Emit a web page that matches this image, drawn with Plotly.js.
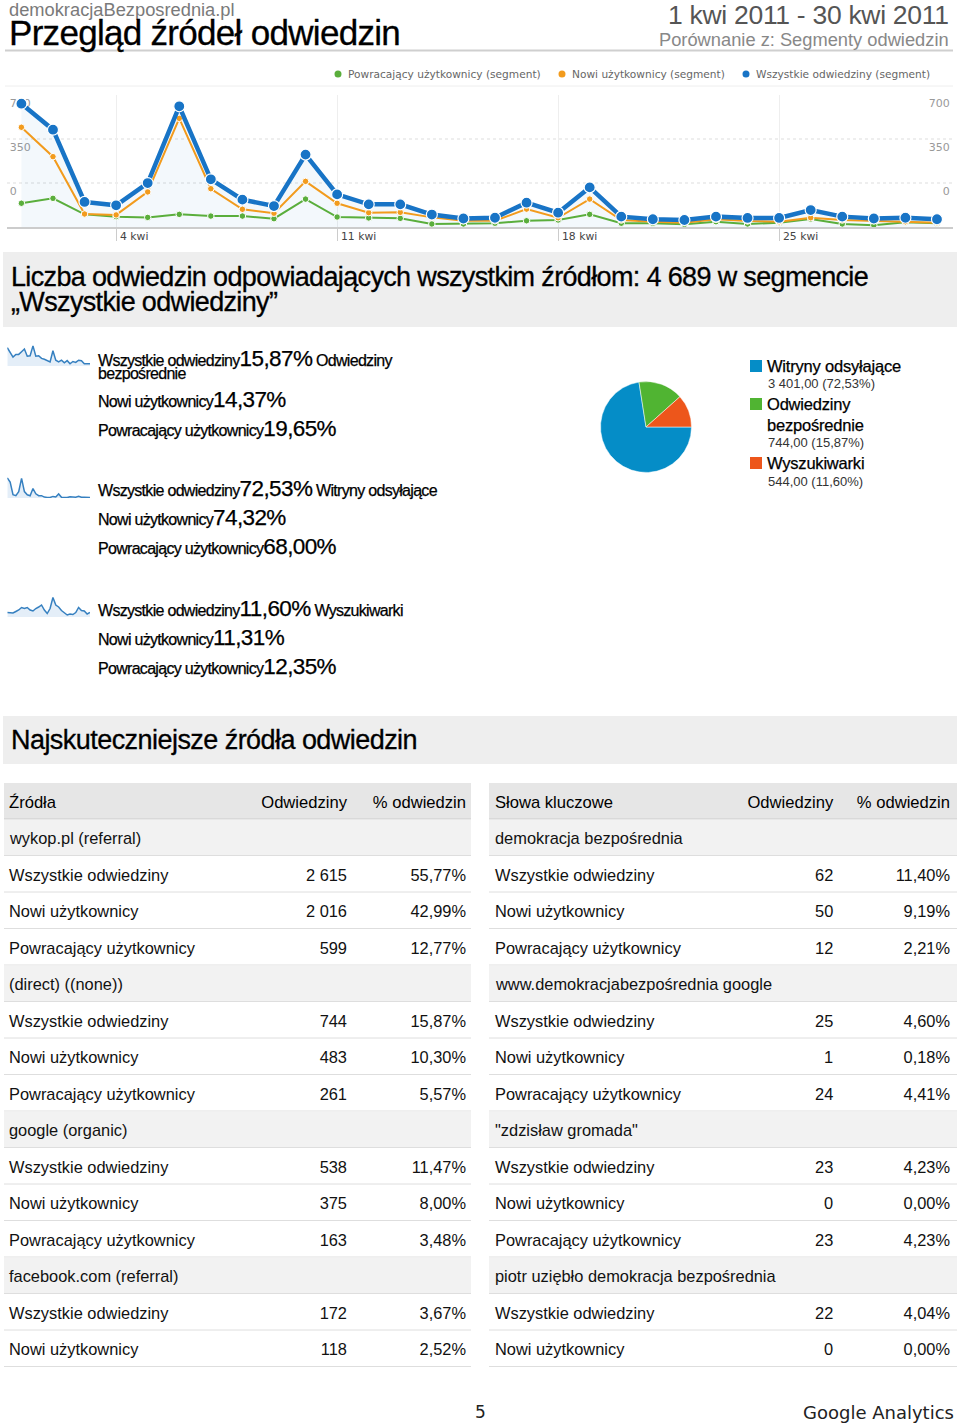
<!DOCTYPE html>
<html><head><meta charset="utf-8">
<script src="https://cdn.plot.ly/plotly-3.0.1.min.js"></script>
<style>html,body{margin:0;padding:0;background:#fff}#chart{width:960px;height:1425px}</style>
</head><body><div id="chart"></div>
<script>
// ---------- DATA ----------
const days = [1,2,3,4,5,6,7,8,9,10,11,12,13,14,15,16,17,18,19,20,21,22,23,24,25,26,27,28,29,30];
const allVisits = [654,516,133,115,233,640,253,145,111,384,173,120,120,66,45,49,129,76,210,55,41,37,55,48,48,90,55,45,49,41];
const newUsers = [529,373,69,64,186,576,203,94,73,242,126,76,78,51,33,33,95,49,148,37,28,23,41,32,28,49,37,33,28,23];
const returningUsers = [126,152,67,55,51,67,58,58,44,148,53,48,46,16,16,20,33,37,67,20,20,14,28,16,23,42,16,9,25,20];
const seriesNames = ['Powracający użytkownicy (segment)','Nowi użytkownicy (segment)','Wszystkie odwiedziny (segment)'];
const xTickVals = [4,11,18,25];
const xTickText = ['4 kwi','11 kwi','18 kwi','25 kwi'];
const yTickVals = [700,466.67,233.33];
const yTickText = ['700','350','0'];

const sparkDirect = [46,35,25,31,31,37,43,27,28,50,27,28,22,20,17,14,39,18,14,18,12,17,10,15,13,18,17,10,10,10];
const sparkReferral = [595,468,96,69,184,580,189,95,65,280,125,68,70,28,17,14,47,30,120,20,16,12,35,24,22,49,21,19,29,18];
const sparkSearch = [13,13,12,15,18,23,21,23,18,16,21,24,28,18,11,21,43,28,24,17,13,8,10,9,13,23,17,16,10,13];
const segmentLabels = ['Wszystkie odwiedziny','Nowi użytkownicy','Powracający użytkownicy'];
const sourceNames = ['Odwiedziny bezpośrednie','Witryny odsyłające','Wyszukiwarki'];
const pctDirect = ['15,87%','14,37%','19,65%'];
const pctReferral = ['72,53%','74,32%','68,00%'];
const pctSearch = ['11,60%','11,31%','12,35%'];

const pieLabels = ['Witryny odsyłające','Odwiedziny bezpośrednie','Wyszukiwarki'];
const pieValues = [3401,744,544];
const pieValueText = ['3 401,00 (72,53%)','744,00 (15,87%)','544,00 (11,60%)'];
const pieColors = ['#058dc7','#50b432','#ed561b'];

const srcHeader = ['Źródła','Odwiedziny','% odwiedzin'];
const srcNames = ['wykop.pl (referral)','Wszystkie odwiedziny','Nowi użytkownicy','Powracający użytkownicy','(direct) ((none))','Wszystkie odwiedziny','Nowi użytkownicy','Powracający użytkownicy','google (organic)','Wszystkie odwiedziny','Nowi użytkownicy','Powracający użytkownicy','facebook.com (referral)','Wszystkie odwiedziny','Nowi użytkownicy'];
const srcVisits = ['','2 615','2 016','599','','744','483','261','','538','375','163','','172','118'];
const srcPct = ['','55,77%','42,99%','12,77%','','15,87%','10,30%','5,57%','','11,47%','8,00%','3,48%','','3,67%','2,52%'];

const kwHeader = ['Słowa kluczowe','Odwiedziny','% odwiedzin'];
const kwNames = ['demokracja bezpośrednia','Wszystkie odwiedziny','Nowi użytkownicy','Powracający użytkownicy','www.demokracjabezpośrednia google','Wszystkie odwiedziny','Nowi użytkownicy','Powracający użytkownicy','"zdzisław gromada"','Wszystkie odwiedziny','Nowi użytkownicy','Powracający użytkownicy','piotr uziębło demokracja bezpośrednia','Wszystkie odwiedziny','Nowi użytkownicy'];
const kwVisits = ['','62','50','12','','25','1','24','','23','0','23','','22','0'];
const kwPct = ['','11,40%','9,19%','2,21%','','4,60%','0,18%','4,41%','','4,23%','0,00%','4,23%','','4,04%','0,00%'];

// ---------- LAYOUT HELPERS ----------
const X = p => p/960, Y = p => 1 - p/1425;
const SANS = 'Liberation Sans, Arial, sans-serif';
const DJ = 'DejaVu Sans, sans-serif';
const annotations = [], shapes = [];
function txt(text, x, y, font, o) {
  annotations.push(Object.assign({text:text, x:X(x), y:Y(y), xref:'paper', yref:'paper', showarrow:false,
    xanchor:'left', yanchor:'middle', align:'left', borderpad:0, font:font}, o||{}));
}
function sp(t, size, ls, color, heavy) {
  let s = '';
  if (size) s += 'font-size:' + size + 'px;';
  if (ls) s += 'letter-spacing:' + ls + 'px;';
  if (color) s += 'color:' + color + ';';
  if (heavy) s += 'stroke:#000;stroke-width:' + heavy + 'px;';
  return '<span style="' + s + '">' + t + '</span>';
}
function rect(x0,y0,x1,y1,fill){ shapes.push({type:'rect',xref:'paper',yref:'paper',x0:X(x0),x1:X(x1),y0:Y(y0),y1:Y(y1),fillcolor:fill,line:{width:0},layer:'below'}); }
function hline(x0,x1,y,color,w,dash){ shapes.push({type:'line',xref:'paper',yref:'paper',x0:X(x0),x1:X(x1),y0:Y(y),y1:Y(y),line:{color:color,width:w,dash:dash||'solid'},layer:'below'}); }

// ---------- HEADER ----------
txt(sp('demokracjaBezposrednia.pl', 18.3, 0, '#7a7a7a') + '<br>' + sp('Przegląd źródeł odwiedzin', 35, -0.7, '#000', 0.3),
    8, 25, {family:SANS,size:22.3,color:'#000'});
txt(sp('1 kwi 2011 - 30 kwi 2011', 26.5, -0.3, '#555') + '<br>' + sp('Porównanie z: Segmenty odwiedzin', 18.3, 0, '#888'),
    950, 24.8, {family:SANS,size:16.9,color:'#555'}, {xanchor:'right', align:'right'});
hline(5,953,50.5,'#cfcfcf',2);
hline(5,953,86,'#eeeeee',1);

// legend
const legendColors = ['#5aae3c','#f29b1d','#1874c6'];
const legendDotX = [338,562,746];
legendColors.forEach((c,i)=>{
  shapes.push({type:'circle',xref:'paper',yref:'paper',x0:X(legendDotX[i]-3.5),x1:X(legendDotX[i]+3.5),y0:Y(74+3.5),y1:Y(74-3.5),fillcolor:c,line:{width:0}});
  txt(seriesNames[i], legendDotX[i]+9, 74.5, {family:DJ,size:10.6,color:'#666'});
});

// main chart gridlines (dotted)
[yTickVals[1], yTickVals[2]].forEach(v=>{
  shapes.push({type:'line',xref:'paper',yref:'y',x0:X(7),x1:X(952.7),y0:v,y1:v,line:{color:'#dddddd',width:1,dash:'dot'},layer:'below'});
});
// x tick labels
xTickVals.forEach((v,i)=>{
  annotations.push({text:xTickText[i],x:v,xref:'x',y:Y(237),yref:'paper',showarrow:false,xanchor:'left',yanchor:'middle',xshift:2,font:{family:DJ,size:10.8,color:'#444'}});
});

// ---------- SUMMARY BOX ----------
rect(3,252,957,327,'#eeeeee');
txt(sp('Liczba odwiedzin odpowiadających wszystkim źródłom: 4 689 w segmencie', 27, -0.65, null, 0.3) + '<br>' + sp('„Wszystkie odwiedziny”', 27, -0.65, null, 0.3),
    10, 290, {family:SANS,size:19.2,color:'#000'});

// sparkline texts
const HV = 0.25;
const blockPcts = [pctDirect, pctReferral, pctSearch];
const blockLineY = [[363.5,399.5,428.2],[488.9,517.2,546.2],[608.2,637.2,666.2]];
blockPcts.forEach((pcts,b)=>{
  pcts.forEach((p,i)=>{
    let t = sp(segmentLabels[i], 16, -0.7, null, HV) + sp(p, 22.5, -0.6, null, HV);
    let base = 16;
    if (i===0) {
      const src = sourceNames[b];
      if (b===0) {
        const parts = src.split(' ');
        t += sp(' ' + parts[0], 16, -0.7, null, HV) + '<br>' + sp(parts.slice(1).join(' '), 16, -0.7, null, HV);
        base = 10.2;
      } else {
        t += sp(' ' + src, 16, -0.7, null, HV);
      }
    }
    txt(t, 97, blockLineY[b][i], {family:SANS,size:base,color:'#000'});
  });
});

// pie legend
const pieLegendY = [[366,383],[404,443],[463,481]];
pieLabels.forEach((l,i)=>{
  const y0 = pieLegendY[i][0];
  shapes.push({type:'rect',xref:'paper',yref:'paper',x0:X(750),x1:X(762),y0:Y(y0+6),y1:Y(y0-6),fillcolor:pieColors[i],line:{width:0}});
  if (i===1) {
    const parts = l.split(' ');
    txt(sp(parts[0], 16.5, -0.2, null, HV), 766, y0, {family:SANS,size:16.5,color:'#000'});
    txt(sp(parts[1], 16.5, -0.2, null, HV), 766, 425, {family:SANS,size:16.5,color:'#000'});
  } else {
    txt(sp(l, 16.5, -0.2, null, HV), 766, y0, {family:SANS,size:16.5,color:'#000'});
  }
  txt(pieValueText[i], 767, pieLegendY[i][1], {family:SANS,size:13,color:'#333'});
});

// ---------- SECTION HEADER ----------
rect(3,716,957,764,'#eeeeee');
txt(sp('Najskuteczniejsze źródła odwiedzin', 27, -0.55, null, 0.3), 10, 740, {family:SANS,size:27,color:'#000'});

// ---------- TABLES ----------
const ROWH = 36.5, TOP = 783, TXTSHIFT = 4.5;
const CLEAR = 'rgba(0,0,0,0)';
function makeTable(header, names, visits, pcts, xl, xr, widths, fl, fr) {
  const isGroup = visits.map(v => v === '');
  const col1 = names.map((n,i) => isGroup[i] ? '' : n);
  rect(fl, TOP, fr, TOP+ROWH, '#e6e6e6');
  hline(fl, fr, TOP+ROWH-0.5, '#cccccc', 1.2);
  names.forEach((n,i)=>{
    const top = TOP + ROWH*(i+1);
    if (isGroup[i]) {
      rect(fl, top, fr, top+ROWH, '#f2f2f2');
      txt(n, xl+7, top + ROWH/2, {family:SANS,size:16.4,color:'#111'});
    }
    hline(fl, fr, top + ROWH - 0.5, '#dedede', 1);
  });
  return {
    type:'table', domain:{x:[X(xl),X(xr)], y:[Y(TOP + TXTSHIFT + ROWH*16 + 4), Y(TOP + TXTSHIFT)]},
    columnwidth: widths,
    header:{values:header, align:['left','right','right'], height:ROWH,
      fill:{color:CLEAR}, line:{color:CLEAR,width:0},
      font:{family:SANS,size:16.6,color:'#000'}},
    cells:{values:[col1, visits, pcts], align:['left','right','right'], height:ROWH,
      fill:{color:CLEAR}, line:{color:CLEAR,width:0},
      font:{family:SANS,size:16.4,color:'#111'}}
  };
}
const leftTable = makeTable(srcHeader, srcNames, srcVisits, srcPct, 1, 474, [234,120,119], 4, 471);
const rightTable = makeTable(kwHeader, kwNames, kwVisits, kwPct, 487, 959, [255,100,117], 489, 957);

// ---------- FOOTER ----------
txt('5', 480, 1412, {family:DJ,size:17,color:'#222'}, {xanchor:'center'});
txt('Google Analytics', 955, 1412, {family:DJ,size:18,color:'#222'}, {xanchor:'right'});

// ---------- TRACES ----------
const traces = [
  {x:days, y:allVisits, mode:'none', fill:'tozeroy', fillcolor:'rgba(24,116,198,0.05)', xaxis:'x', yaxis:'y', hoverinfo:'skip', showlegend:false},
  {x:days, y:returningUsers, name:seriesNames[0], mode:'lines+markers', line:{color:legendColors[0],width:2}, marker:{size:6.5,color:legendColors[0],line:{color:'#fff',width:1}}, xaxis:'x', yaxis:'y'},
  {x:days, y:newUsers, name:seriesNames[1], mode:'lines+markers', line:{color:legendColors[1],width:2}, marker:{size:6.5,color:legendColors[1],line:{color:'#fff',width:1}}, xaxis:'x', yaxis:'y'},
  {x:days, y:allVisits, name:seriesNames[2], mode:'lines+markers', line:{color:legendColors[2],width:4.5}, marker:{size:11,color:legendColors[2],line:{color:'#fff',width:1.2}}, xaxis:'x', yaxis:'y'},
  {x:[days[0]], y:[allVisits[0]], mode:'markers', marker:{opacity:0}, xaxis:'x', yaxis:'y2', hoverinfo:'skip', showlegend:false},
  {x:days, y:sparkDirect, mode:'lines', line:{color:'#3680c0',width:1.5}, fill:'tozeroy', fillcolor:'#e4eef8', xaxis:'x3', yaxis:'y3', hoverinfo:'skip'},
  {x:days, y:sparkReferral, mode:'lines', line:{color:'#3680c0',width:1.5}, fill:'tozeroy', fillcolor:'#e4eef8', xaxis:'x4', yaxis:'y4', hoverinfo:'skip'},
  {x:days, y:sparkSearch, mode:'lines', line:{color:'#3680c0',width:1.5}, fill:'tozeroy', fillcolor:'#e4eef8', xaxis:'x5', yaxis:'y5', hoverinfo:'skip'},
  {type:'pie', labels:pieLabels, values:pieValues, sort:false, direction:'clockwise', rotation:90, textinfo:'none', hoverinfo:'skip',
    marker:{colors:pieColors, line:{color:'#ffffff',width:0.5}}, showlegend:false,
    domain:{x:[X(600.5),X(691.5)], y:[Y(472.5),Y(381.5)]}},
  leftTable, rightTable
];

const yLab = {family:DJ,size:11,color:'#999'};
const sparkX = {domain:[X(7.3),X(90)], range:[1,30], visible:false, fixedrange:true};
const layout = {
  width:960, height:1425, margin:{l:0,r:0,t:0,b:0}, paper_bgcolor:'#fff', plot_bgcolor:'rgba(0,0,0,0)',
  showlegend:false, font:{family:SANS},
  xaxis:{domain:[X(6.7),X(952.7)], range:[0.534,30.498], anchor:'y', tickvals:xTickVals, showticklabels:false,
    ticks:'outside', ticklen:12, tickcolor:'#cccccc', showgrid:true, gridcolor:'#eeeeee', showline:true, linecolor:'#cccccc', linewidth:1.5, zeroline:false, fixedrange:true},
  yaxis:{domain:[Y(227),Y(95)], range:[0,700], anchor:'x', tickvals:yTickVals, ticktext:yTickText, ticklabelposition:'inside',
    ticklabelshift:8, ticks:'', showgrid:false, zeroline:false, showline:false, tickfont:yLab, layer:'below traces', fixedrange:true},
  yaxis2:{overlaying:'y', side:'right', anchor:'x', range:[0,700], tickvals:yTickVals, ticktext:yTickText, ticklabelposition:'inside',
    ticklabelshift:8, ticks:'', showgrid:false, zeroline:false, showline:false, tickfont:yLab, layer:'below traces', fixedrange:true},
  xaxis3:Object.assign({anchor:'y3'}, sparkX),
  yaxis3:{domain:[Y(366),Y(345)], range:[5,52], anchor:'x3', visible:false, fixedrange:true},
  xaxis4:Object.assign({anchor:'y4'}, sparkX),
  yaxis4:{domain:[Y(498),Y(477)], range:[0,620], anchor:'x4', visible:false, fixedrange:true},
  xaxis5:Object.assign({anchor:'y5'}, sparkX),
  yaxis5:{domain:[Y(617),Y(596)], range:[4,46], anchor:'x5', visible:false, fixedrange:true},
  annotations:annotations, shapes:shapes
};
Plotly.newPlot('chart', traces, layout, {staticPlot:true, displayModeBar:false});
</script>
</body></html>
